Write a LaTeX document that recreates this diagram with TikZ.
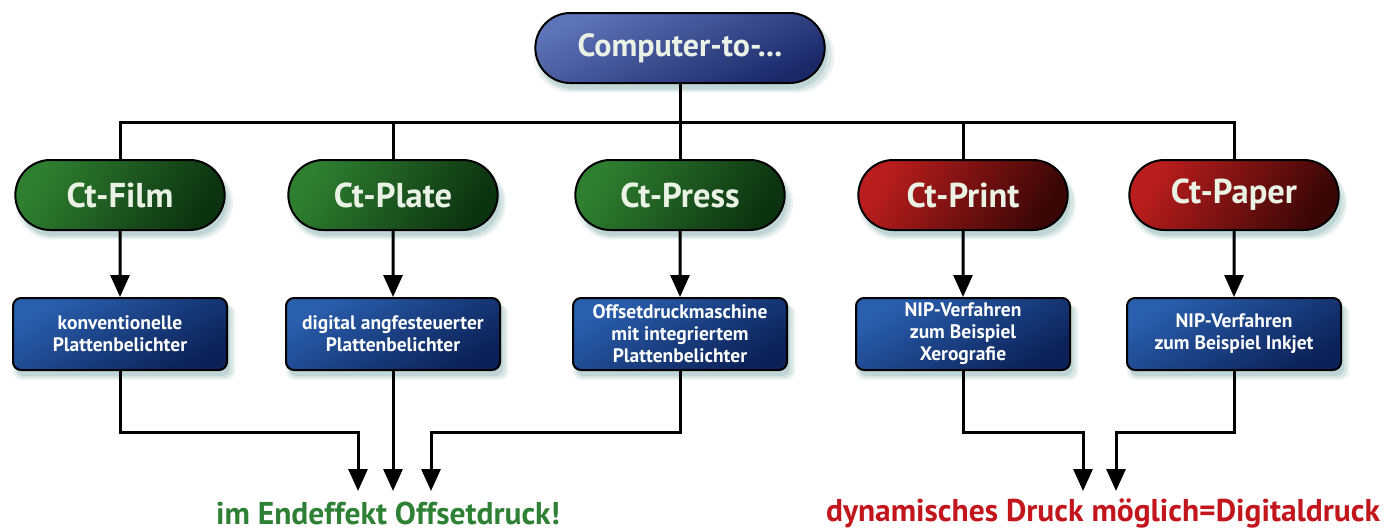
\documentclass[tikz,border=0pt]{standalone}
\usepackage{fontspec}
\setmainfont{PT Sans}
\usetikzlibrary{shapes.misc,arrows.meta,shadows}
\definecolor{topL}{HTML}{5E74B8}
\definecolor{topD}{HTML}{1A2868}
\definecolor{greenL}{HTML}{2F7F30}
\definecolor{greenD}{HTML}{0C3310}
\definecolor{redL}{HTML}{BA1D1D}
\definecolor{redD}{HTML}{3A0606}
\definecolor{boxL}{HTML}{2A5FAE}
\definecolor{boxD}{HTML}{0B2157}
\definecolor{lbl}{HTML}{EAF2E6}
\definecolor{shadowcol}{HTML}{6FA0A0}
\definecolor{greentext}{HTML}{2E8035}
\definecolor{redtext}{HTML}{C2161C}
\tikzset{
  softshadow/.style={
    general shadow={fill=shadowcol, opacity=0.12, shadow xshift=4pt, shadow yshift=-8pt, shadow scale=1.04},
    general shadow={fill=shadowcol, opacity=0.18, shadow xshift=4pt, shadow yshift=-7pt, shadow scale=1.02},
    general shadow={fill=shadowcol, opacity=0.22, shadow xshift=3pt, shadow yshift=-6pt}},
  pill/.style={rounded rectangle, draw=black, line width=2pt, minimum width=216pt,
    minimum height=70pt, text=lbl, font=\bfseries\fontsize{34.5}{38}\selectfont, softshadow},
  toppill/.style={pill, minimum width=296pt, top color=topL, bottom color=topD, shading angle=25,
    font=\bfseries\fontsize{32}{36}\selectfont},
  greenpill/.style={pill, top color=greenL, bottom color=greenD, shading angle=60},
  redpill/.style={pill, top color=redL, bottom color=redD, shading angle=60},
  infobox/.style={rectangle, rounded corners=8pt, draw=black, line width=2pt,
    minimum width=214pt, minimum height=72pt, inner sep=1pt, align=center, text=white,
    top color=boxL, bottom color=boxD, shading angle=30,
    font=\bfseries\fontsize{19.5}{22}\selectfont, softshadow},
  conn/.style={draw=black, line width=3pt},
  arr/.style={conn, -{Triangle[width=19pt,length=22pt]}},
  result/.style={font=\bfseries\fontsize{31.5}{34}\selectfont}
}
\begin{document}
\begin{tikzpicture}[x=1pt,y=-1pt]
\useasboundingbox (0,0) rectangle (1394,530);
% nodes
\node[toppill] (top) at (680,48) {Computer-to-...};
\node[greenpill] (film) at (120,195) {Ct-Film};
\node[greenpill] (plate) at (393,195) {Ct-Plate};
\node[greenpill] (press) at (680,195) {Ct-Press};
\node[redpill] (print) at (963,195) {Ct-Print};
\node[redpill] (paper) at (1234,195) {Ct-Paper};
\node[infobox] (b1) at (120,334) {konventionelle\\Plattenbelichter};
\node[infobox] (b2) at (393,334) {digital angfesteuerter\\Plattenbelichter};
\node[infobox] (b3) at (680,334) {Offsetdruckmaschine\\mit integriertem\\Plattenbelichter};
\node[infobox] (b4) at (963,334) {NIP-Verfahren\\zum Beispiel\\Xerografie};
\node[infobox] (b5) at (1234,334) {NIP-Verfahren\\zum Beispiel Inkjet};
\node[result, text=greentext] (offset) at (388,513) {im Endeffekt Offsetdruck!};
\node[result, text=redtext] (digital) at (1103,513) {dynamisches Druck möglich=Digitaldruck};
% coordinates
\coordinate (hub) at (680,122);
\coordinate (ga0) at (358,432); \coordinate (ga) at (358,491);
\coordinate (gb) at (393,491);
\coordinate (gc0) at (431,432); \coordinate (gc) at (431,491);
\coordinate (ra0) at (1083,432); \coordinate (ra) at (1083,491);
\coordinate (rb0) at (1116,432); \coordinate (rb) at (1116,491);
% tree
\draw[conn] (top.south) -- (hub);
\draw[conn] (film.north) |- (hub) -| (paper.north);
\draw[conn] (plate.north) -- (plate.north |- hub);
\draw[conn] (press.north) -- (press.north |- hub);
\draw[conn] (print.north) -- (print.north |- hub);
% down arrows
\draw[arr] (film) -- (b1);
\draw[arr] (plate) -- (b2);
\draw[arr] (press) -- (b3);
\draw[arr] (print) -- (b4);
\draw[arr] (paper) -- (b5);
% merging
\draw[arr] (b1.south) |- (ga0) -- (ga);
\draw[arr] (b2.south) -- (gb);
\draw[arr] (b3.south) |- (gc0) -- (gc);
\draw[arr] (b4.south) |- (ra0) -- (ra);
\draw[arr] (b5.south) |- (rb0) -- (rb);
\end{tikzpicture}
\end{document}
